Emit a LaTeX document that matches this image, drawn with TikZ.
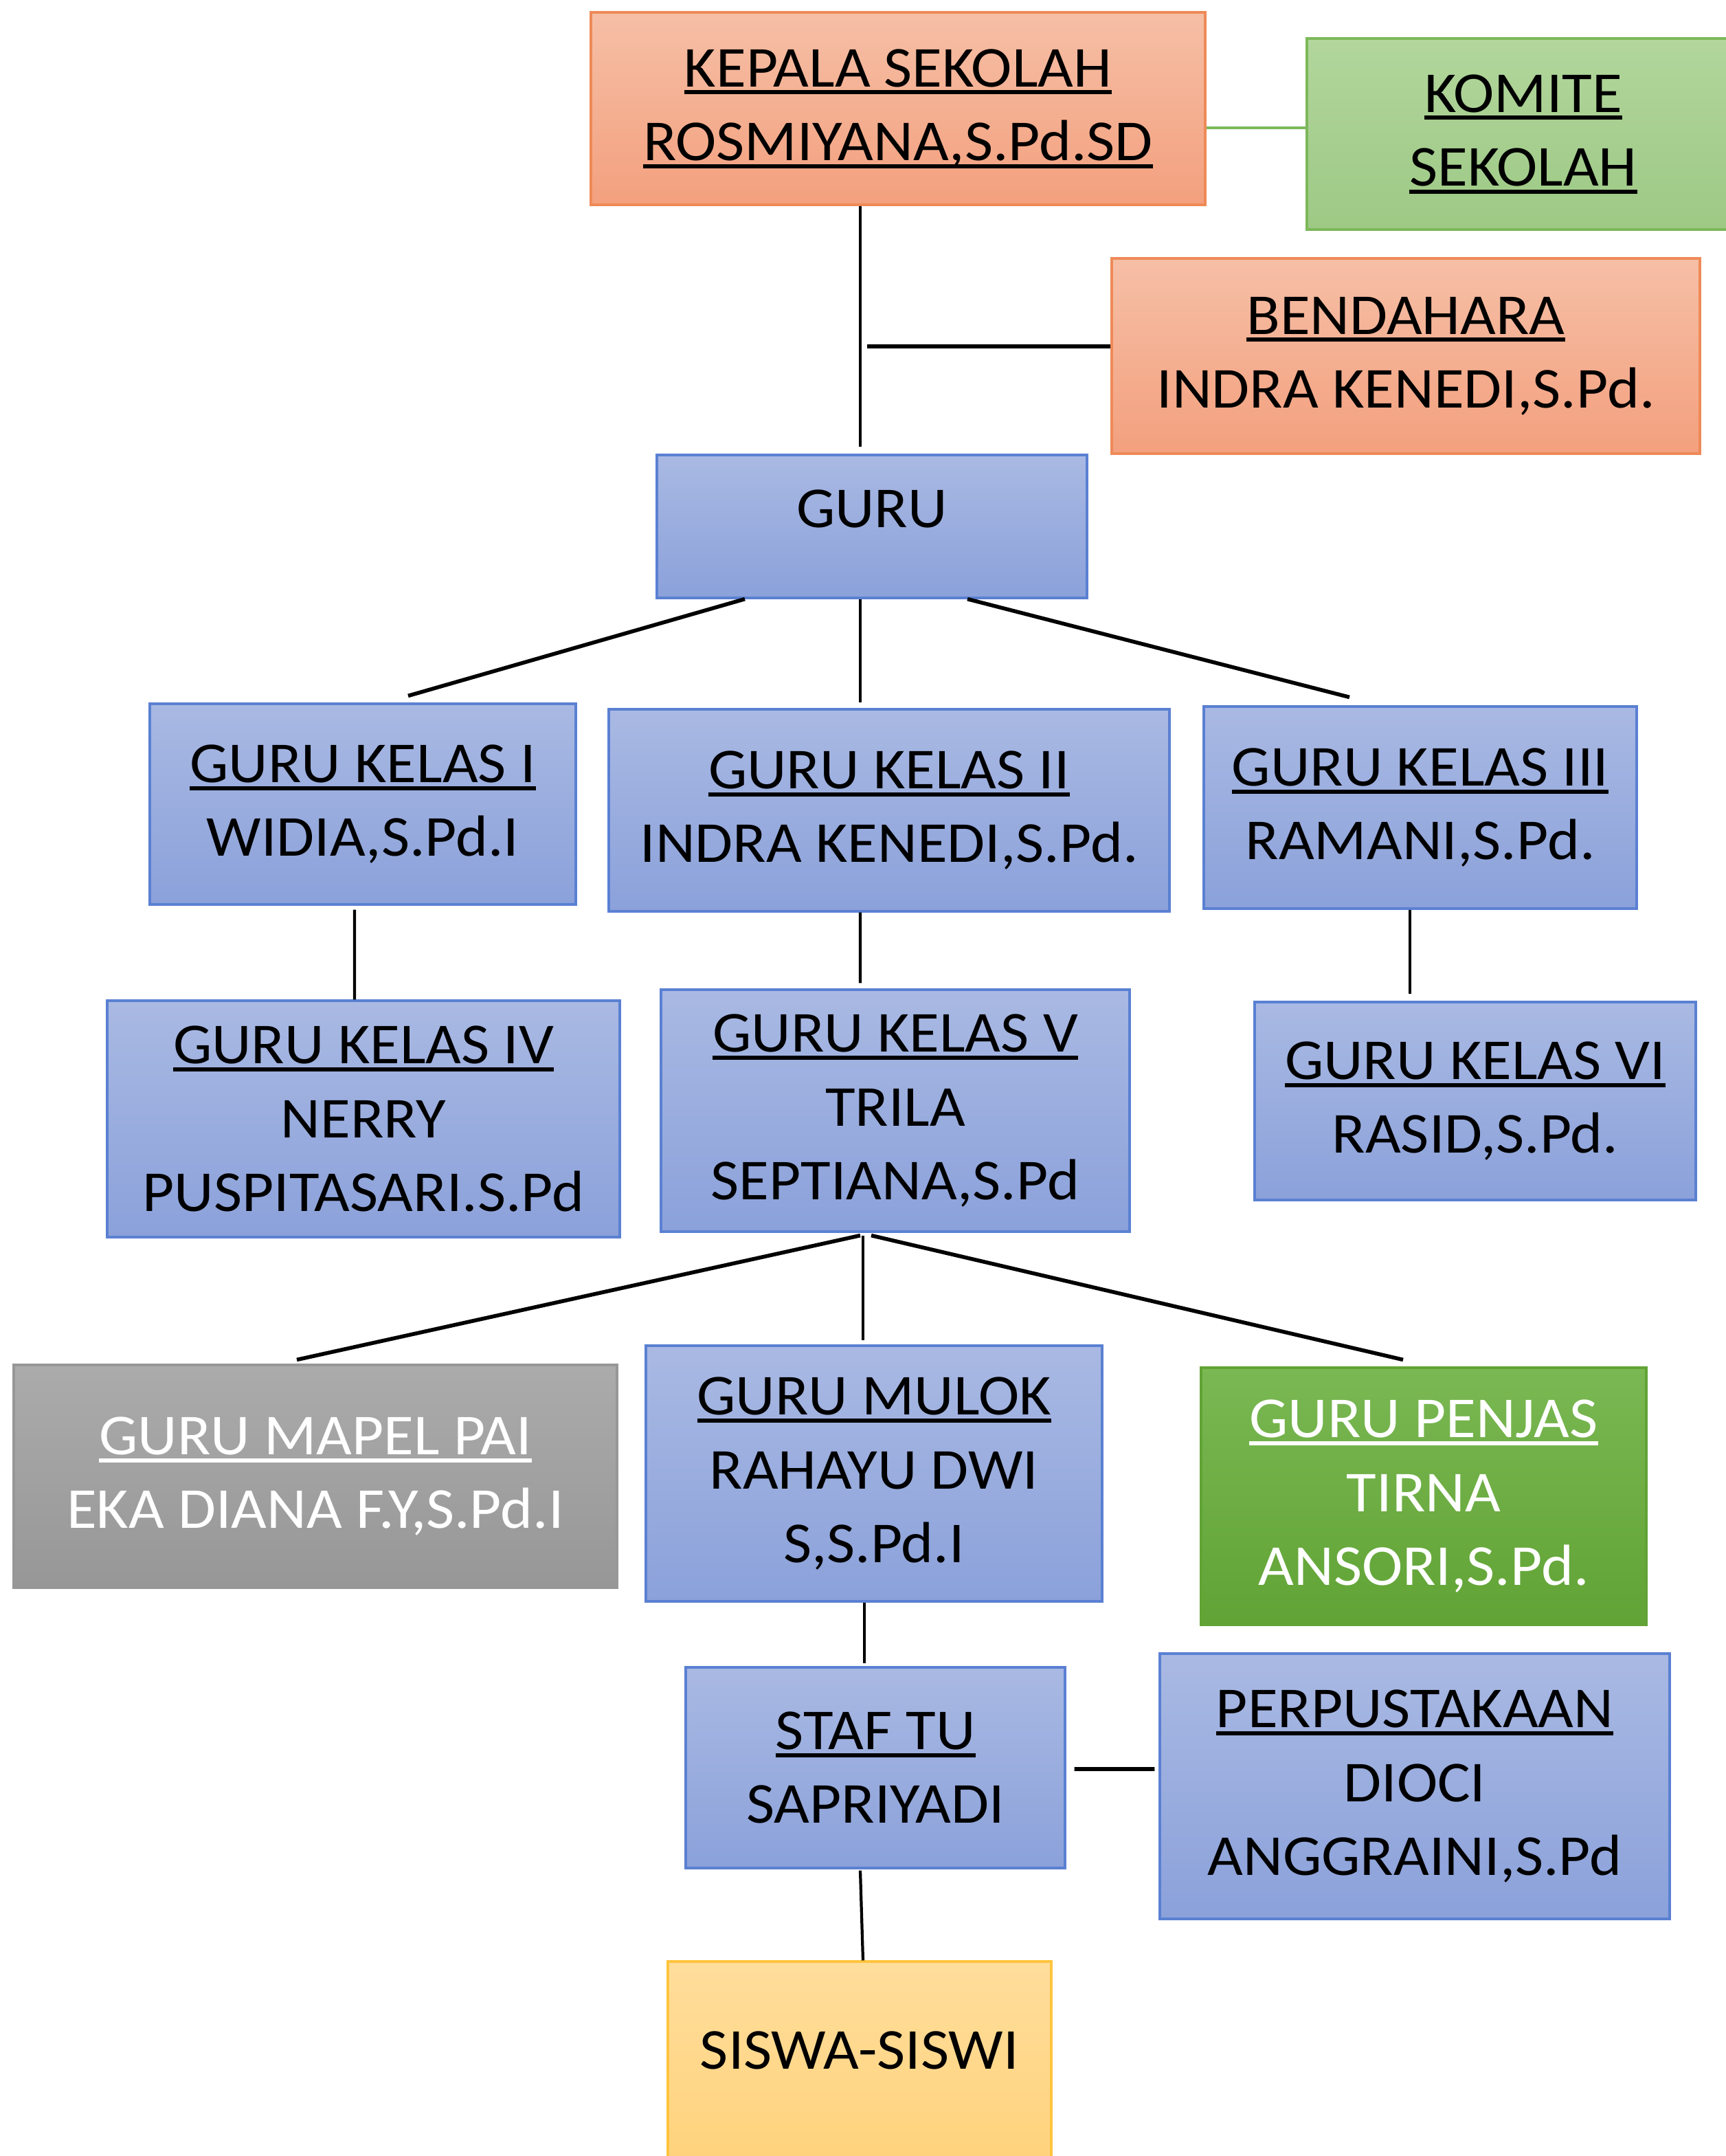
\documentclass[tikz,border=0pt]{standalone}
\usepackage{fontspec}
\setmainfont{Carlito}[FakeStretch=1.06]
\usepackage{tikz}

\definecolor{orangetop}{HTML}{F6BFA6}
\definecolor{orangebot}{HTML}{F3A07E}
\definecolor{orangeline}{HTML}{EE8A57}
\definecolor{komitetop}{HTML}{B2D69C}
\definecolor{komitebot}{HTML}{9DC985}
\definecolor{komiteline}{HTML}{7DB85A}
\definecolor{bluetop}{HTML}{A9B9E3}
\definecolor{bluebot}{HTML}{8BA1DA}
\definecolor{blueline}{HTML}{5A80D2}
\definecolor{graytop}{HTML}{ABABAB}
\definecolor{graybot}{HTML}{979797}
\definecolor{penjastop}{HTML}{7AB853}
\definecolor{penjasbot}{HTML}{61A335}
\definecolor{siswatop}{HTML}{FFDD9B}
\definecolor{siswabot}{HTML}{FFD37D}
\definecolor{siswaline}{HTML}{FFC43E}

\newsavebox{\garisbox}
\newcommand{\garis}[1]{\sbox{\garisbox}{#1}\rlap{\rule[-3.2pt]{\wd\garisbox}{1.7pt}}\usebox{\garisbox}}

\begin{document}
\begin{tikzpicture}[
        orangebox/.style={draw=orangeline, top color=orangetop, bottom color=orangebot},
        komitebox/.style={draw=komiteline, top color=komitetop, bottom color=komitebot},
        bluebox/.style={draw=blueline, top color=bluetop, bottom color=bluebot},
        graybox/.style={draw=graybot, top color=graytop, bottom color=graybot, text=white},
        penjasbox/.style={draw=penjasbot, top color=penjastop, bottom color=penjasbot, text=white},
        siswabox/.style={draw=siswaline, top color=siswatop, bottom color=siswabot}]
        \useasboundingbox (0,0) rectangle (25.12,-31.37);
        \begin{scope}[every node/.style={rectangle,line width=0.9pt,inner sep=0pt,align=center,
            font=\fontsize{24}{30.5}\selectfont}]
            \node[orangebox, minimum width=8.94cm, minimum height=2.80cm] (1) at (13.07, -1.58) {\garis{KEPALA SEKOLAH}\\\garis{ROSMIYANA,S.Pd.SD}};
            \node[komitebox, minimum width=6.30cm, minimum height=2.78cm] (2) at (22.17, -1.95) {\garis{KOMITE}\\\garis{SEKOLAH}};
            \node[orangebox, minimum width=8.56cm, minimum height=2.84cm] (3) at (20.46, -5.18) {\garis{BENDAHARA}\\INDRA KENEDI,S.Pd.};
            \node[bluebox, minimum width=6.26cm, minimum height=2.08cm, text depth=0.52cm] (4) at (12.69, -7.66) {GURU};
            \node[bluebox, minimum width=6.20cm, minimum height=2.92cm] (5) at (5.28, -11.70) {\garis{GURU KELAS I}\\WIDIA,S.Pd.I};
            \node[bluebox, minimum width=8.16cm, minimum height=2.94cm] (6) at (12.94, -11.79) {\garis{GURU KELAS II}\\INDRA KENEDI,S.Pd.};
            \node[bluebox, minimum width=6.30cm, minimum height=2.94cm] (7) at (20.67, -11.75) {\garis{GURU KELAS III}\\RAMANI,S.Pd.};
            \node[bluebox, minimum width=7.46cm, minimum height=3.44cm] (8) at (5.29, -16.28) {\garis{GURU KELAS IV}\\NERRY\\PUSPITASARI.S.Pd};
            \node[bluebox, minimum width=6.82cm, minimum height=3.52cm] (9) at (13.03, -16.16) {\garis{GURU KELAS V}\\TRILA\\SEPTIANA,S.Pd};
            \node[bluebox, minimum width=6.42cm, minimum height=2.88cm] (10) at (21.47, -16.02) {\garis{GURU KELAS VI}\\RASID,S.Pd.};
            \node[graybox, minimum width=8.78cm, minimum height=3.24cm] (11) at (4.59, -21.48) {\garis{GURU MAPEL PAI}\\EKA DIANA F.Y,S.Pd.I};
            \node[bluebox, minimum width=6.64cm, minimum height=3.72cm] (12) at (12.72, -21.44) {\garis{GURU MULOK}\\RAHAYU DWI\\S,S.Pd.I};
            \node[penjasbox, minimum width=6.48cm, minimum height=3.74cm] (13) at (20.72, -21.77) {\garis{GURU PENJAS}\\TIRNA\\ANSORI,S.Pd.};
            \node[bluebox, minimum width=5.52cm, minimum height=2.92cm] (14) at (12.74, -25.72) {\garis{STAF TU}\\SAPRIYADI};
            \node[bluebox, minimum width=7.42cm, minimum height=3.86cm] (15) at (20.59, -25.99) {\garis{PERPUSTAKAAN}\\DIOCI\\ANGGRAINI,S.Pd};
            \node[siswabox, minimum width=5.58cm, minimum height=2.90cm, text depth=0.32cm] (16) at (12.51, -29.99) {SISWA-SISWI};
        \end{scope}
        \coordinate (b) at (12.62, -5.04);
        \begin{scope}[every edge/.style={draw=black,line width=1.2pt}]
                    \path ([xshift=-0.55cm]1.south) edge ([shift={(-0.17,0.10)}]4.north);
                    \path ([yshift=-0.28cm]1.east) edge[draw=komiteline] ([yshift=0.09cm]2.west);
                    \path (b) edge[line width=1.6pt] (b -| 3.west);
                    \path ([xshift=-1.85cm]4.south) edge[line width=1.6pt] ([shift={(0.66,0.10)}]5.north);
                    \path ([xshift=-0.17cm]4.south) edge ([shift={(-0.42,0.08)}]6.north);
                    \path ([xshift=1.39cm]4.south) edge[line width=1.6pt] ([shift={(-1.03,0.12)}]7.north);
                    \path ([shift={(-0.12,-0.06)}]5.south) edge ([xshift=-0.13cm]8.north);
                    \path ([xshift=-0.42cm]6.south) edge ([shift={(-0.51,0.08)}]9.north);
                    \path ([xshift=-0.15cm]7.south) edge ([shift={(-0.95,0.10)}]10.north);
                    \path ([shift={(-0.51,-0.04)}]9.south) edge[line width=1.6pt] ([shift={(-0.27,0.06)}]11.north);
                    \path ([shift={(-0.47,-0.04)}]9.south) edge ([shift={(-0.16,0.06)}]12.north);
                    \path ([shift={(-0.35,-0.04)}]9.south) edge[line width=1.6pt] ([shift={(-0.30,0.10)}]13.north);
                    \path ([xshift=-0.14cm]12.south) edge ([shift={(-0.16,0.04)}]14.north);
                    \path ([shift={(0.12,-0.02)}]14.east) edge[line width=1.6pt] ([shift={(-0.06,0.25)}]15.west);
                    \path ([shift={(-0.22,-0.02)}]14.south) edge ([xshift=0.05cm]16.north);
        \end{scope}
    \end{tikzpicture}
\end{document}
